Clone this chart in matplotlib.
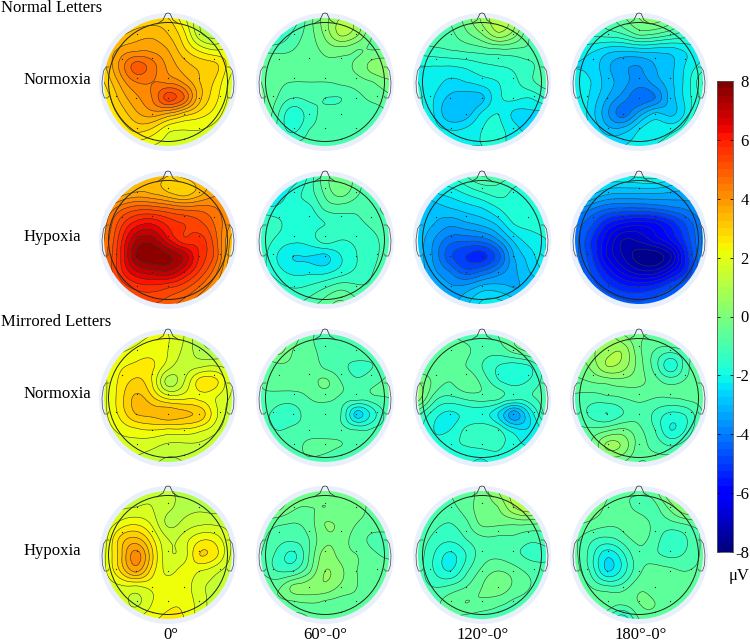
import numpy as np
import matplotlib
matplotlib.use("Agg")
import matplotlib.pyplot as plt
from matplotlib.patches import Circle
from matplotlib.cm import ScalarMappable
from matplotlib.colors import BoundaryNorm, Normalize

plt.rcParams['font.family'] = ['Liberation Serif', 'DejaVu Serif']

W, H = 750, 644
COL_X = [168, 325, 482, 639]
ROW_Y = [82, 240, 398, 555]
col_labels = ['0°', '60°-0°', '120°-0°', '180°-0°']
row_labels = ['Normoxia', 'Hypoxia', 'Normoxia', 'Hypoxia']
group_labels = ['Normal Letters', 'Mirrored Letters']
cbar_ticks = [8, 6, 4, 2, 0, -2, -4, -6, -8]
cbar_unit = 'μV'

normal_normoxia_0 = [
 [2.3,2.4,2.7,2.9,2.8,2.1,1.2,0.8,1.0],
 [2.8,3.1,3.4,3.5,3.2,2.5,1.3,1.0,1.5],
 [3.2,3.7,3.9,3.9,3.6,2.9,2.3,2.0,2.1],
 [3.1,4.1,5.0,4.6,3.9,3.4,3.1,2.9,2.1],
 [2.8,3.7,4.4,4.4,4.3,3.9,3.2,2.7,1.8],
 [2.5,3.3,3.9,4.4,5.4,4.8,3.3,2.5,1.8],
 [2.4,2.9,3.5,3.8,3.5,3.0,2.6,2.2,1.6],
 [2.3,2.5,2.9,2.7,2.1,2.0,2.0,1.8,1.4],
 [2.0,2.2,2.2,2.0,1.9,1.9,1.8,1.5,1.2]]
normal_normoxia_60 = [
 [-2,-2,-1.5,-0.6,0.2,0.8,0.6,-0.2,-0.5],
 [-2,-1.8,-1.1,-0.6,0.1,0.9,0.5,-0.4,-0.5],
 [-0.9,-0.9,-0.8,-0.6,-0.3,-0.2,-0.4,-0.4,-0.4],
 [-0.5,-0.7,-0.7,-0.6,-0.5,-0.5,-0.3,0.2,0.3],
 [-0.4,-0.7,-0.8,-0.8,-0.8,-0.7,-0.6,-0.4,-0.1],
 [-0.3,-0.8,-1.2,-1.1,-1.2,-1.2,-0.9,-0.7,-0.5],
 [-0.3,-1.1,-1.9,-1.4,-1.1,-1.0,-0.9,-1.0,-0.8],
 [-0.5,-1.2,-1.7,-1.2,-1.1,-0.9,-0.9,-0.9,-0.8],
 [-0.6,-1,-1.1,-1,-1,-1,-1,-0.9,-0.8]]
normal_normoxia_120 = [
 [-1.5,-1.0,-0.8,-0.2,0.5,1.0,0.6,-0.5,-1.0],
 [-1.2,-1,-0.9,-0.5,0.0,0.7,0.2,-0.8,-1.2],
 [-1.4,-1.3,-1.2,-1.1,-1.0,-0.9,-0.9,-0.9,-1.2],
 [-2,-2.0,-2.0,-1.9,-1.7,-1.6,-1.5,-1.3,-1.0],
 [-2,-2.2,-2.5,-2.4,-2.2,-2.0,-1.7,-1.3,-1.0],
 [-1.9,-2.4,-2.9,-3,-2.9,-2.1,-1.9,-2.0,-1.6],
 [-1.8,-2.4,-3.1,-3,-2.3,-2.0,-2.5,-2.5,-2.5],
 [-1.8,-2.2,-2.4,-2.3,-2,-1.9,-2.2,-2.6,-2.6],
 [-1.8,-2,-2,-2,-2,-2.0,-2,-2,-2]]
normal_normoxia_180 = [
 [-1.5,-1.4,-1,-0.5,0,0.2,-0.2,-1,-1.5],
 [-1.6,-1.5,-1.4,-1.2,-0.7,-0.8,-1.1,-1.4,-1.6],
 [-2.2,-2.3,-2.6,-2.7,-2.6,-2.6,-2.6,-2.3,-2],
 [-2.4,-2.5,-3.1,-3.5,-3.6,-3.2,-2.9,-2.3,-1.8],
 [-2.3,-2.4,-3,-3.4,-3.8,-3.4,-2.9,-2.2,-1.2],
 [-2,-2.5,-3.2,-3.8,-4.3,-4.0,-3.0,-2.2,-1.4],
 [-2,-2.6,-3.5,-4.2,-3.4,-2.7,-2.9,-2.2,-0.8],
 [-2,-2.4,-3,-3.0,-2.4,-2.1,-2.1,-1.5,0.2],
 [-2,-2.2,-2.4,-2.4,-2.2,-2,-1.8,-0.8,0.5]]
normal_hypoxia_0 = [
 [1.8,2.2,3,3.4,3.2,3.3,3.6,3.8,3.8],
 [2.5,3.2,3.6,3.5,3.2,2.9,3.4,3.9,3.8],
 [3.8,4.6,5.0,5.0,4.8,4.6,4.6,4.4,3.9],
 [4.2,5.4,6.2,6.4,5.9,5.6,5.3,4.7,3.9],
 [4.4,5.8,7.2,7.4,6.5,5.7,5.8,4.9,3.4],
 [4.6,5.9,7.6,7.9,7.7,7.1,5.9,5.0,3.2],
 [4.6,5.8,6.7,7.0,7.1,6.4,5.5,4.5,3.0],
 [4.4,5.2,5.7,5.8,5.6,5.3,4.7,3.9,3.0],
 [4.1,4.6,5.0,5.2,5.0,4.6,4.0,3.4,3.0]]
normal_hypoxia_60 = [
 [-2.8,-2.8,-2.4,-1.5,-0.6,-0.2,-0.6,-1.2,-1.4],
 [-2.8,-2.5,-1.8,-1.4,-0.7,-0.2,-0.7,-1.1,-1.0],
 [-1.9,-1.9,-1.7,-1.7,-1.1,-1.0,-1.1,-0.9,-0.7],
 [-1.3,-1.5,-1.8,-1.8,-1.6,-1.4,-1.3,-1.1,-0.9],
 [-1.3,-1.7,-1.9,-1.8,-1.4,-1.6,-1.5,-1.3,-1.0],
 [-1.4,-2.0,-2.4,-2.4,-2.5,-2.0,-1.6,-1.3,-1],
 [-1.4,-1.8,-2.1,-2.1,-2.1,-1.8,-1.5,-1.2,-0.9],
 [-1,-1.4,-1.6,-1.5,-1.2,-0.9,-1.1,-1.1,-0.8],
 [-0.8,-1,-1.2,-1,-0.6,-0.3,-0.7,-0.9,-0.8]]
normal_hypoxia_120 = [
 [-2.3,-1.9,-1.6,-1.2,-0.8,-1.0,-1.2,-1.6,-1.8],
 [-2.8,-2.4,-2.2,-1.9,-1.6,-1.4,-1.7,-1.9,-1.9],
 [-3.2,-3,-2.8,-2.6,-2.4,-2,-1.7,-1.8,-2.0],
 [-3,-3.2,-3.5,-3.3,-3.1,-2.7,-2.0,-1.9,-1.9],
 [-3,-3.6,-4.2,-4.3,-4.2,-3.6,-2.7,-2.2,-2],
 [-3.0,-3.7,-4.7,-5.2,-5.4,-4.6,-3.2,-2.6,-2.0],
 [-3,-3.5,-4.0,-4.6,-4.3,-3.8,-3.3,-2.8,-2.4],
 [-3.1,-3.3,-3.5,-3.4,-3.0,-3.0,-3.2,-3.1,-3],
 [-3.3,-3.3,-3.3,-2.9,-2.3,-2.2,-2.6,-3.1,-3.3]]
normal_hypoxia_180 = [
 [-1.5,-1.5,-2,-2,-1.9,-1.8,-2.2,-2.6,-2.8],
 [-1.6,-2.5,-3,-3.1,-3.1,-3.1,-3.2,-3.3,-3.3],
 [-3.5,-3.9,-4.3,-4.4,-4.4,-4.3,-4.1,-3.9,-3.6],
 [-4.1,-4.7,-5.6,-6.1,-6.3,-6.1,-5.5,-4.7,-3.9],
 [-4.2,-5.2,-6.3,-7.2,-7.1,-6.6,-6.0,-5.0,-3.9],
 [-4.2,-5.1,-6.4,-7.2,-7.8,-7.9,-7.2,-5.4,-3.9],
 [-4,-4.8,-5.7,-6.5,-7.0,-7.0,-6.2,-5.2,-3.9],
 [-3.9,-4.5,-5.0,-5.4,-5.5,-5.3,-4.8,-4.3,-3.8],
 [-3.8,-4.1,-4.3,-4.6,-4.7,-4.5,-4.2,-3.9,-3.5]]
mirrored_normoxia_0 = [
 [1.5,1.5,1.8,2.0,2.0,1.6,0.8,0.4,0.5],
 [1.6,1.9,2.1,2.2,2.0,1.5,1.0,0.8,1.0],
 [1.9,2.3,2.5,2.5,1.8,1.4,1.5,1.6,1.4],
 [1.9,2.5,2.9,2.4,1.0,1.6,2.6,2.5,1.6],
 [1.9,2.6,3.3,2.9,2.3,2.3,2.3,2.0,1.5],
 [1.9,2.5,3.2,3.3,3.5,3.3,3.1,2.1,1.3],
 [1.8,2.1,2.3,2.4,2.3,2.3,2.1,1.7,1.2],
 [1.7,1.8,1.8,1.7,1.5,1.5,1.5,1.3,1.1],
 [1.6,1.6,1.5,1.3,1.1,1.2,1.2,1.1,1.0]]
mirrored_normoxia_60 = [
 [-0.4,0.3,-0.1,-0.7,-0.9,-0.9,-0.9,-1,-1],
 [-0.5,0.2,-0.4,-0.7,-0.9,-1,-0.9,-1,-1],
 [-0.8,-0.5,-0.5,-0.5,-0.9,-1.1,-1.3,-1.2,-0.9],
 [-0.8,-0.6,-0.6,-0.6,-0.3,-0.8,-1.1,-0.9,-0.7],
 [-0.9,-1,-1,-0.8,-0.7,-0.9,-1,-0.9,-0.8],
 [-1.1,-1.3,-1.4,-1,-1.0,-1.2,-2.6,-1.8,-1.0],
 [-1.1,-1.2,-1.1,-1,-1,-1.0,-1.2,-1.1,-1],
 [-1.1,-1.2,-1,-0.7,-0.7,-0.8,-0.9,-1,-1],
 [-1.2,-1.2,-1,-0.9,-1.0,-1.1,-1,-1,-1]]
mirrored_normoxia_120 = [
 [-1.2,-0.9,-0.8,-1,-1,-0.8,-0.4,0.4,0.5],
 [-1.1,-0.7,-0.6,-0.7,-1,-1,-0.6,-0.2,0],
 [-0.7,-0.6,-0.5,-0.8,-1.2,-1.6,-1.8,-1.6,-0.8],
 [0,-0.5,-0.8,-0.5,-0.9,-1.5,-1.8,-1.5,-1],
 [0.2,-1,-1.3,-1.1,-1.0,-1.1,-1.4,-1.3,-1],
 [-1.1,-1.8,-2.1,-1.9,-1.9,-2.4,-3.5,-2.3,-1.1],
 [-1.4,-2.0,-2,-1.5,-1.3,-1.5,-2.2,-2.3,-1.9],
 [-1.7,-1.9,-1.7,-1.6,-1.5,-1.5,-1.9,-2,-2],
 [-1.8,-1.9,-1.9,-1.9,-2.1,-1.8,-2,-2,-2]]
mirrored_normoxia_180 = [
 [0,0.2,0.5,0,-0.3,-0.4,0,0.4,0.5],
 [0,0.3,0.6,0.7,-0.3,-0.8,-1.0,-0.7,-0.2],
 [-0.3,0.1,0.8,0.6,-0.2,-1,-1.9,-0.9,-0.5],
 [-0.5,-0.4,-0.3,-0.2,-0.3,-0.6,-0.9,-0.7,-0.6],
 [-0.9,-1.0,-0.9,-0.8,-0.7,-0.8,-0.8,-0.7,-0.6],
 [-0.9,-1.3,-1.6,-1.2,-0.9,-1.3,-1.7,-1.5,-0.8],
 [-0.7,-0.7,-0.5,-0.3,-0.7,-1.2,-2.0,-1.5,-0.7],
 [-0.7,-0.4,0.5,0.3,-0.6,-0.9,-1.2,-0.9,-0.6],
 [-0.7,-0.6,-0.4,-0.4,-0.8,-0.7,-0.6,-0.6,-0.6]]
mirrored_hypoxia_0 = [
 [0.9,1.0,1.3,1.5,1.3,1.0,0.7,0.6,0.6],
 [1.3,1.5,1.6,1.6,1.3,1.1,1.1,1.0,1.0],
 [1.6,2.1,2.3,1.9,1.1,1.3,1.5,1.5,1.4],
 [1.8,2.9,3.3,2.5,1.6,1.8,2.3,2.2,1.5],
 [1.9,3.0,4.2,2.9,1.7,1.8,2.8,2.5,1.5],
 [1.9,2.8,3.7,2.6,1.9,2.2,2.0,1.7,1.3],
 [1.7,1.9,1.9,2.1,2.2,2.2,1.7,1.5,1.2],
 [1.5,1.8,1.5,2.0,2.3,2.3,1.8,1.4,1.1],
 [1.5,1.7,2.0,2.3,2.5,2.4,1.8,1.4,1.1]]
mirrored_hypoxia_60 = [
 [0.6,0.3,-0.1,-0.2,-0.1,-0.1,-0.1,-0.6,-1],
 [0.2,0.2,-0.3,-0.4,-0.4,-0.3,-0.2,-0.6,-0.9],
 [-0.5,-0.7,-0.8,-0.6,0.0,-0.1,-0.4,-0.6,-0.7],
 [-0.7,-1.0,-1.1,-0.8,-0.1,-0.2,-0.6,-0.9,-0.9],
 [-0.8,-1.3,-1.7,-0.8,0.2,-0.2,-0.4,-0.7,-0.9],
 [-0.8,-1.2,-1.2,-0.5,0.4,0.1,-0.4,-0.5,-0.5],
 [-0.4,-0.5,0.1,0.2,0.3,-0.1,-0.4,-0.6,-0.5],
 [-0.3,-0.5,-0.5,-0.4,-0.5,-0.6,-0.5,-0.5,-0.4],
 [-0.4,-0.6,-0.9,-0.8,-0.5,-0.7,-0.7,-0.5,-0.4]]
mirrored_hypoxia_120 = [
 [-1.2,-1.0,-0.8,-0.6,-0.2,0.4,1.0,1.4,1.5],
 [-1.1,-1,-0.9,-0.6,-0.2,0.0,0.8,1.2,0.8],
 [-1,-1.1,-1.2,-0.9,-0.3,-0.3,-0.3,-0.3,-0.4],
 [-1,-1.3,-1.5,-1.2,-0.9,-0.9,-0.9,-1.1,-1.0],
 [-1,-1.6,-2.1,-1.6,-1.0,-0.9,-1.1,-1.3,-1.3],
 [-1,-1.6,-2.0,-1.3,-0.7,-0.4,-0.6,-0.9,-1],
 [-1,-1.2,-1.1,-0.8,-0.4,-0.1,-0.5,-0.8,-0.9],
 [-1.0,-0.9,-0.6,-0.4,-0.5,-0.7,-0.9,-0.9,-0.9],
 [-1,-1,-0.9,-1,-1.1,-1,-0.9,-0.9,-0.9]]
mirrored_hypoxia_180 = [
 [0,0.1,-0.3,-0.7,-0.7,-0.5,0.6,1,1.2],
 [0.2,0,-0.5,-0.7,-0.9,-0.9,-0.2,0.6,0.7],
 [-0.3,-0.5,-0.7,-0.7,-0.6,-0.9,-0.9,-0.7,-0.5],
 [-0.7,-1.1,-1.3,-1,-0.7,-1,-1.5,-1.2,-0.7],
 [-0.7,-1.4,-2.3,-1.7,-0.9,-1.1,-1.3,-1.1,-0.7],
 [-0.6,-1.3,-2.4,-1.8,-0.9,-0.6,-0.7,-0.8,-0.6],
 [-0.3,-0.8,-1.1,-1,-0.5,-0.6,-0.7,-0.6,-0.2],
 [0,-0.4,-0.5,-0.7,-0.4,-0.4,-0.7,-0.6,-0.2],
 [0,-0.2,-1.2,-1.9,-0.8,-0.6,-0.5,-0.4,-0.2]]

maps = [
 [normal_normoxia_0, normal_normoxia_60, normal_normoxia_120, normal_normoxia_180],
 [normal_hypoxia_0, normal_hypoxia_60, normal_hypoxia_120, normal_hypoxia_180],
 [mirrored_normoxia_0, mirrored_normoxia_60, mirrored_normoxia_120, mirrored_normoxia_180],
 [mirrored_hypoxia_0, mirrored_hypoxia_60, mirrored_hypoxia_120, mirrored_hypoxia_180],
]

sensor_x = [-31,0,31,-46,-16,16,46,-31,0,31,-32,0,31,-52,-16,16,52,-31,0,31,-16,16]
sensor_y = [48,52,48,23,24,24,23,4,4,4,-16,-16,-16,-14,-32,-32,-14,-46,-46,-46,-57,-57]

GRID = np.linspace(-64, 64, 9)
FINE = np.linspace(-66, 66, 221)
fx, fy = np.meshgrid(FINE, FINE)
gx, gy = np.meshgrid(GRID, GRID[::-1])
pts = np.column_stack([gx.ravel(), gy.ravel()])

def tps(vals):
    """thin-plate interpolation of a coarse value table"""
    z = np.asarray(vals, float).ravel()
    d = np.hypot(pts[:, 0, None] - pts[:, 0], pts[:, 1, None] - pts[:, 1])
    with np.errstate(divide='ignore', invalid='ignore'):
        K = np.nan_to_num(d**2 * np.log(d))
    P = np.column_stack([np.ones(len(pts)), pts])
    A = np.block([[K + 1e-3*np.eye(len(pts)), P], [P.T, np.zeros((3, 3))]])
    sol = np.linalg.solve(A, np.r_[z, 0, 0, 0])
    q = np.column_stack([fx.ravel(), fy.ravel()])
    dq = np.hypot(q[:, 0, None] - pts[:, 0], q[:, 1, None] - pts[:, 1])
    with np.errstate(divide='ignore', invalid='ignore'):
        Kq = np.nan_to_num(dq**2 * np.log(dq))
    out = Kq @ sol[:len(pts)] + sol[-3] + sol[-2]*q[:, 0] + sol[-1]*q[:, 1]
    return out.reshape(fx.shape)

levels = np.linspace(-8, 8, 41)
cnorm = Normalize(-8, 8)
bar_levels = np.linspace(-8, 8, 65)
bar_cmap = plt.get_cmap('jet', 64)
bar_norm = BoundaryNorm(bar_levels, 64)

fig = plt.figure(figsize=(W/100, H/100), dpi=100)
HALF = 74

def head_outline(ax):
    lw = 0.55
    ink = '#333333'
    ax.add_patch(Circle((0, 0), 59.5, fill=False, ec='#222222', lw=0.7, zorder=5))
    nx = [-11, -5, -2, 0, 2, 5, 11]
    ny = [58, 62, 68.5, 69, 68.5, 62, 58]
    ax.plot(nx, ny, color=ink, lw=lw, zorder=5)
    ex = np.array([59, 62, 64.5, 66, 65.5, 63.5, 60.5, 59])
    ey = np.array([15, 15, 11, 0, -10, -16, -16, -14])
    for s in (-1, 1):
        ax.plot(s*ex, ey, color='#555555', lw=lw, zorder=5)

for r, (row_vals, cy) in enumerate(zip(maps, ROW_Y)):
    for c, (vals, cx) in enumerate(zip(row_vals, COL_X)):
        ax = fig.add_axes([(cx-HALF)/W, 1-(cy+HALF)/H, 2*HALF/W, 2*HALF/H])
        ax.set_xlim(-HALF, HALF); ax.set_ylim(-HALF, HALF); ax.axis('off')
        ax.add_patch(Circle((0, 0), 69, fc='#e9f0fb', ec='none', zorder=0))
        clip = Circle((0, 0), 64, transform=ax.transData)
        Z = tps(vals)
        cf = ax.contourf(fx, fy, Z, levels=levels, cmap='jet', norm=cnorm, extend='both', zorder=1)
        cf.set_clip_path(clip)
        cl = ax.contour(fx, fy, Z, levels=levels, colors='#2c3a32', linewidths=0.4,
                        linestyles='solid', zorder=2)
        cl.set_clip_path(clip)
        ax.scatter(sensor_x, sensor_y, s=0.8, c='#222222', linewidths=0, zorder=4)
        head_outline(ax)

def px_text(x, y, s, **kw):
    fig.text(x/W, 1-y/H, s, fontsize=12, color='black', va='center', **kw)

for lab, y in zip(row_labels, [80, 237, 394, 551]):
    px_text(24, y, lab, ha='left')
px_text(1, 8, group_labels[0], ha='left')
px_text(1, 322, group_labels[1], ha='left')
for lab, x in zip(col_labels, [171, 325, 483, 641]):
    px_text(x, 635, lab, ha='center')

cax = fig.add_axes([717/W, 1-552/H, 16/W, 471/H])
cb = fig.colorbar(ScalarMappable(norm=bar_norm, cmap=bar_cmap), cax=cax, ticks=cbar_ticks,
                  spacing='proportional', drawedges=False)
cb.ax.set_yticklabels([str(t) for t in cbar_ticks])
cb.ax.tick_params(axis='y', labelsize=12, length=2, width=0.6, direction='in',
                  left=True, right=True, pad=11.5)
for t in cb.ax.get_yticklabels():
    t.set_horizontalalignment('right')
cb.outline.set_linewidth(0.6)
cb.outline.set_edgecolor('#555555')
cb.minorticks_off()
px_text(729, 576, cbar_unit, ha='left')

fig.savefig('out.png', dpi=100)
